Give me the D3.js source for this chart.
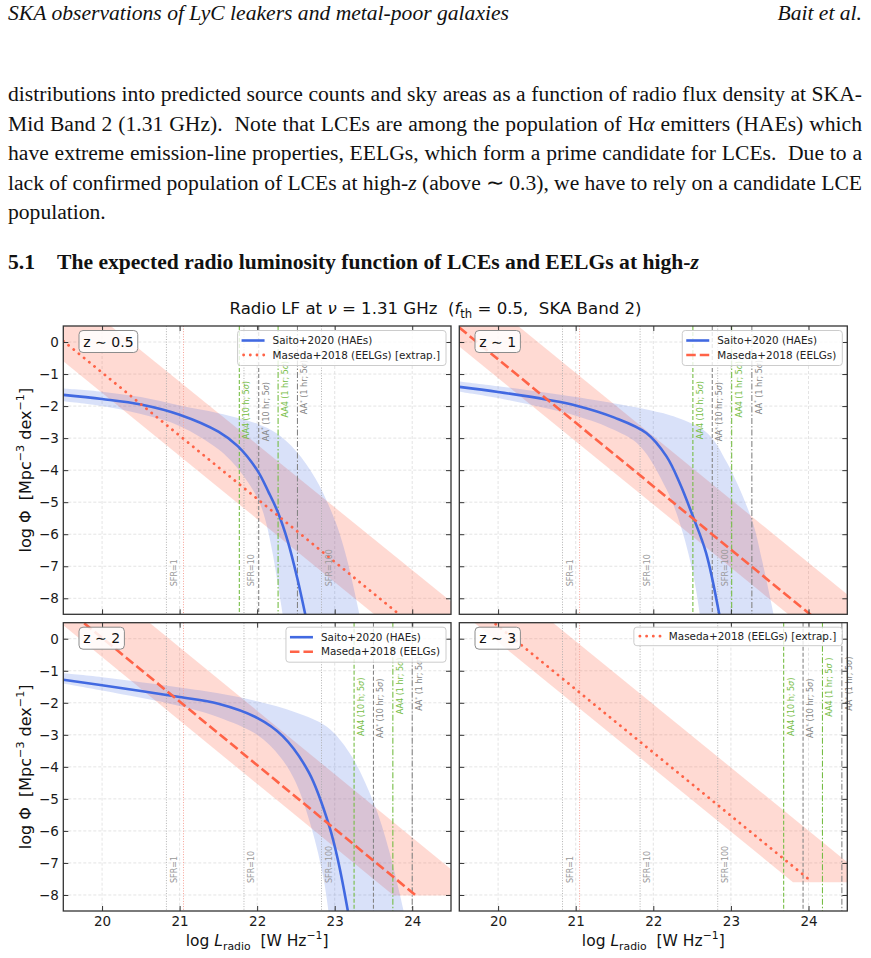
<!DOCTYPE html>
<html><head><meta charset="utf-8">
<script src="https://cdn.jsdelivr.net/npm/d3@7"></script>
<style>
body{margin:0;background:#fff;}
svg text{white-space:pre;}
</style></head><body>
<svg id="c" width="871" height="958"></svg>
<script>
// ---------------- DATA ----------------
const zLabels = ["z \u223C 0.5", "z \u223C 1", "z \u223C 2", "z \u223C 3"];
const xTicks = [20, 21, 22, 23, 24];
const yTicks = [0, -1, -2, -3, -4, -5, -6, -7, -8];
const xDomain = [19.5, 24.5];
const yDomain = [-8.5, 0.5];

const sfrLines = [20.83, 21.83, 22.83];
const sfrLabels = ["SFR=1", "SFR=10", "SFR=100"];
const redVLine = 21.05;

// sensitivity lines per panel (z~0.5, 1, 2, 3)
const aa4_10h = [21.77, 22.51, 23.25, 23.68];
const aaS_10h = [22.02, 22.76, 23.50, 23.93];
const aa4_1h  = [22.27, 23.01, 23.75, 24.18];
const aaS_1h  = [22.52, 23.27, 24.00, 24.43];

// Saito+2020 (HAEs) curves
const saitoX = [
  [19.5, 20.0, 20.5, 21.0, 21.5, 21.75, 22.0, 22.15, 22.27, 22.4, 22.52, 22.62],
  [19.5, 20.0, 20.63, 21.0, 21.5, 21.91, 22.17, 22.34, 22.51, 22.68, 22.85],
  [19.5, 20.0, 20.5, 21.0, 21.5, 22.0, 22.33, 22.67, 22.93, 23.05, 23.17],
  null
];
const saitoY = [
  [-1.65, -1.78, -1.95, -2.27, -2.80, -3.25, -4.00, -4.70, -5.33, -6.26, -7.40, -8.50],
  [-1.40, -1.56, -1.80, -1.98, -2.36, -2.84, -3.57, -4.40, -5.44, -6.58, -8.50],
  [-1.28, -1.45, -1.63, -1.82, -2.03, -2.47, -3.04, -4.19, -5.85, -7.00, -8.50],
  null
];
const saitoUpX = [
  [19.5, 20, 20.5, 21, 21.5, 22, 22.25, 22.5, 22.75, 23.0, 23.15, 23.32],
  [19.5, 20, 21, 21.5, 22, 22.26, 22.69, 22.95, 23.27, 23.4, 23.55],
  [19.5, 20, 21, 21.5, 22, 22.5, 22.9, 23.2, 23.5, 23.7, 23.89],
  null
];
const saitoUpY = [
  [-1.45, -1.55, -1.72, -1.98, -2.22, -2.55, -2.85, -3.40, -4.25, -5.55, -6.70, -8.50],
  [-1.23, -1.38, -1.72, -1.92, -2.15, -2.32, -2.83, -3.77, -5.55, -6.80, -8.50],
  [-1.08, -1.20, -1.52, -1.70, -1.95, -2.30, -2.75, -3.60, -5.10, -6.60, -8.50],
  null
];
const saitoLoX = [
  [19.5, 20, 20.5, 21, 21.5, 21.75, 22.0, 22.1, 22.2, 22.33],
  [19.5, 20, 21, 21.5, 21.83, 22.17, 22.34, 22.51, 22.6],
  [19.5, 20, 21, 21.5, 22, 22.3, 22.5, 22.7, 22.85, 22.92],
  null
];
const saitoLoY = [
  [-1.85, -2.00, -2.25, -2.62, -3.35, -3.95, -4.85, -5.50, -6.60, -8.50],
  [-1.55, -1.75, -2.30, -2.75, -3.25, -4.60, -5.64, -7.20, -8.50],
  [-1.40, -1.62, -2.10, -2.45, -3.00, -3.70, -4.50, -5.90, -7.40, -8.50],
  null
];

// Maseda+2018 (EELGs) lines and bands
const masedaX = [[19.5, 24.05], [19.5, 24.05], [19.5, 24.05], [19.5, 24.05]];
const masedaY = [[0.03, -8.93], [0.45, -8.56], [1.02, -8.02], [1.38, -7.60]];
const masedaStyle = ["dotted", "dashed", "dashed", "dotted"];
const masedaUpX = [[19.5, 24.5], [19.5, 24.5], [19.5, 24.5], [19.5, 24.5]];
const masedaUpY = [[1.70, -8.10], [2.00, -7.88], [2.70, -7.20], [2.88, -6.98]];
const masedaLoX = [[19.5, 24.5], [19.5, 24.5], [19.5, 23.76, 24.5], [19.5, 23.80, 24.5]];
const masedaLoY = [[-0.60, -10.45], [-0.14, -10.0], [0.42, -8.02, -8.02], [0.88, -7.60, -7.60]];

const legendSaito = "Saito+2020 (HAEs)";
const legendMaseda = ["Maseda+2018 (EELGs) [extrap.]", "Maseda+2018 (EELGs)", "Maseda+2018 (EELGs)", "Maseda+2018 (EELGs) [extrap.]"];

// ---------------- DRAW ----------------
const svg = d3.select("#c");
svg.append("rect").attr("width", 871).attr("height", 958).attr("fill", "#fff");

function rich(textSel, segs, fs) {
  let off = 0;
  segs.forEach(s => {
    const ts = textSel.append("tspan").text(s.t);
    if (s.it) ts.attr("font-style", "italic");
    if (s.bold) ts.attr("font-weight", "bold");
    let target = 0;
    if (s.sup) { target = -0.42 * fs; ts.attr("font-size", fs * 0.7); }
    if (s.sub) { target = 0.25 * fs; ts.attr("font-size", fs * 0.7); }
    if (target - off !== 0) ts.attr("dy", target - off);
    off = target;
  });
  return textSel;
}

// ---- page text ----
const serif = "'Liberation Serif','Times New Roman',serif";
const pfs = 21.6;
svg.append("text").attr("x", 8).attr("y", 20).attr("font-family", serif).attr("font-size", pfs)
  .attr("font-style", "italic").attr("fill", "#111").text("SKA observations of LyC leakers and metal-poor galaxies");
svg.append("text").attr("x", 862).attr("y", 20).attr("text-anchor", "end").attr("font-family", serif)
  .attr("font-size", pfs).attr("font-style", "italic").attr("fill", "#111").text("Bait et al.");

const paraLines = [
  [{t: "distributions into predicted source counts and sky areas as a function of radio flux density at SKA-"}],
  [{t: "Mid Band 2 (1.31 GHz).  Note that LCEs are among the population of H"}, {t: "\u03B1", it: true}, {t: " emitters (HAEs) which"}],
  [{t: "have extreme emission-line properties, EELGs, which form a prime candidate for LCEs.  Due to a"}],
  [{t: "lack of confirmed population of LCEs at high-"}, {t: "z", it: true}, {t: " (above \u223C 0.3), we have to rely on a candidate LCE"}],
  [{t: "population."}]
];
const paraBase = [101, 130.5, 160, 189.5, 219];
paraLines.forEach((segs, i) => {
  const t = svg.append("text").attr("x", 8).attr("y", paraBase[i]).attr("font-family", serif)
    .attr("font-size", pfs).attr("fill", "#111");
  rich(t, segs, pfs);
  if (i < 4) {
    const w = t.node().getComputedTextLength();
    const nsp = segs.map(s => s.t).join("").split(" ").length - 1;
    t.attr("word-spacing", (854 - w) / nsp);
  }
});
svg.append("text").attr("x", 8).attr("y", 269).attr("font-family", serif).attr("font-size", pfs)
  .attr("font-weight", "bold").attr("fill", "#111").text("5.1");
rich(svg.append("text").attr("x", 57).attr("y", 269).attr("font-family", serif).attr("font-size", pfs)
  .attr("font-weight", "bold").attr("fill", "#111"), [{t: "The expected radio luminosity function of LCEs and EELGs at high-"}, {t: "z", it: true}], pfs);

// ---- chart ----
const sans = "'DejaVu Sans', sans-serif";
const boxes = [
  {l: 63.3, t: 326, r: 451, b: 614.3},
  {l: 459.3, t: 326, r: 847.3, b: 614.3},
  {l: 63.3, t: 622.7, r: 451, b: 911},
  {l: 459.3, t: 622.7, r: 847.3, b: 911}
];
const blue = "#4169e1", tomato = "#ff6347", green = "#76bd45", grey = "#858585";

// title
rich(svg.append("text").attr("x", 435.5).attr("y", 314).attr("text-anchor", "middle")
  .attr("font-family", sans).attr("font-size", 16.6).attr("fill", "#111"),
  [{t: "Radio LF at "}, {t: "\u03BD", it: true}, {t: " = 1.31 GHz  ("}, {t: "f", it: true}, {t: "th", sub: true},
   {t: " = 0.5,  SKA Band 2)"}], 16.6);

const defs = svg.append("defs");
const smooth = d3.curveCatmullRom.alpha(0.5);

boxes.forEach((bx, i) => {
  const x = d3.scaleLinear().domain(xDomain).range([bx.l, bx.r]);
  const y = d3.scaleLinear().domain(yDomain).range([bx.b, bx.t]);
  const g = svg.append("g");
  defs.append("clipPath").attr("id", "clip" + i).append("rect")
    .attr("x", bx.l).attr("y", bx.t).attr("width", bx.r - bx.l).attr("height", bx.b - bx.t);

  // grid
  const grid = g.append("g").attr("stroke", "#d9d9d9").attr("stroke-width", 0.7).attr("stroke-dasharray", "3,2");
  xTicks.forEach(v => grid.append("line").attr("x1", x(v)).attr("x2", x(v)).attr("y1", bx.t).attr("y2", bx.b));
  yTicks.forEach(v => grid.append("line").attr("y1", y(v)).attr("y2", y(v)).attr("x1", bx.l).attr("x2", bx.r));

  const cg = g.append("g").attr("clip-path", "url(#clip" + i + ")");
  const lineGen = d3.line().x(d => x(d[0])).y(d => y(d[1]));
  const smoothGen = d3.line().x(d => x(d[0])).y(d => y(d[1])).curve(smooth);
  const zip = (a, b) => a.map((v, k) => [v, b[k]]);

  // Maseda band
  const mu = zip(masedaUpX[i], masedaUpY[i]);
  const ml = zip(masedaLoX[i], masedaLoY[i]).reverse();
  cg.append("path").attr("d", lineGen(mu.concat(ml)) + "Z").attr("fill", tomato).attr("fill-opacity", 0.24);

  // Saito band
  if (saitoX[i]) {
    const su = zip(saitoUpX[i], saitoUpY[i]);
    const sl = zip(saitoLoX[i], saitoLoY[i]).reverse();
    cg.append("path").attr("d", smoothGen(su) + "L" + smoothGen(sl).slice(1) + "Z")
      .attr("fill", blue).attr("fill-opacity", 0.2);
  }

  // vertical reference lines
  sfrLines.forEach(v => cg.append("line").attr("x1", x(v)).attr("x2", x(v)).attr("y1", bx.t).attr("y2", bx.b)
    .attr("stroke", "#aaa").attr("stroke-width", 0.9).attr("stroke-dasharray", "1,1.6"));
  cg.append("line").attr("x1", x(redVLine)).attr("x2", x(redVLine)).attr("y1", bx.t).attr("y2", bx.b)
    .attr("stroke", "#f6a197").attr("stroke-width", 1).attr("stroke-dasharray", "1,1.6");
  const vl = [
    {v: aa4_10h[i], c: green, d: "4,2"},
    {v: aaS_10h[i], c: grey, d: "4,2"},
    {v: aa4_1h[i], c: green, d: "6,2,1.5,2"},
    {v: aaS_1h[i], c: grey, d: "6,2,1.5,2"}
  ];
  vl.forEach(o => cg.append("line").attr("x1", x(o.v)).attr("x2", x(o.v)).attr("y1", bx.t).attr("y2", bx.b)
    .attr("stroke", o.c).attr("stroke-width", 1.1).attr("stroke-dasharray", o.d));

  // Saito line
  if (saitoX[i]) {
    cg.append("path").attr("d", smoothGen(zip(saitoX[i], saitoY[i]))).attr("fill", "none")
      .attr("stroke", blue).attr("stroke-width", 2.6);
  }
  // Maseda line
  const mp = cg.append("path").attr("d", lineGen(zip(masedaX[i], masedaY[i]))).attr("fill", "none")
    .attr("stroke", tomato);
  if (masedaStyle[i] === "dotted") mp.attr("stroke-width", 2.8).attr("stroke-linecap", "round").attr("stroke-dasharray", "0.1,6.6");
  else mp.attr("stroke-width", 2.6).attr("stroke-dasharray", "9.5,4");

  // SFR labels
  sfrLines.forEach((v, k) => g.append("text").attr("transform", `translate(${x(v) + 10.3},${bx.b - 28}) rotate(-90)`)
    .attr("font-family", sans).attr("font-size", 8).attr("fill", "#999").text(sfrLabels[k]));

  // AA labels
  const lab = [
    {v: aa4_10h[i], c: green, segs: [{t: "AA4 (10 h; 5"}, {t: "\u03C3", it: true}, {t: ")"}], top: 55},
    {v: aaS_10h[i], c: grey, segs: [{t: "AA"}, {t: "*", sup: true}, {t: " (10 hr; 5"}, {t: "\u03C3", it: true}, {t: ")"}], top: 56},
    {v: aa4_1h[i], c: green, segs: [{t: "AA4 (1 hr; 5"}, {t: "\u03C3", it: true}, {t: i === 3 ? " )" : ")"}], top: 35},
    {v: aaS_1h[i], c: grey, segs: [{t: "AA"}, {t: "*", sup: true}, {t: " (1 hr; 5"}, {t: "\u03C3", it: true}, {t: ")"}], top: 34}
  ];
  lab.forEach(o => {
    const t = g.append("text").attr("transform", `translate(${x(o.v) + 10},${bx.t + o.top}) rotate(-90)`)
      .attr("text-anchor", "end").attr("font-family", sans).attr("font-size", 8).attr("fill", o.c);
    rich(t, o.segs, 8);
  });

  // axes ticks (inward, all sides)
  const showY = (i % 2 === 0), showX = (i >= 2);
  const axL = d3.axisLeft(y).tickValues(yTicks).tickSizeInner(-5).tickSizeOuter(0).tickPadding(4.5);
  if (!showY) axL.tickFormat("");
  const axR = d3.axisRight(y).tickValues(yTicks).tickSizeInner(-5).tickSizeOuter(0).tickFormat("");
  const axB = d3.axisBottom(x).tickValues(xTicks).tickSizeInner(-5).tickSizeOuter(0).tickPadding(5.5).tickFormat(d3.format("d"));
  if (!showX) axB.tickFormat("");
  const axT = d3.axisTop(x).tickValues(xTicks).tickSizeInner(-5).tickSizeOuter(0).tickFormat("");
  const gl = g.append("g").attr("transform", `translate(${bx.l},0)`).call(axL);
  const gr = g.append("g").attr("transform", `translate(${bx.r},0)`).call(axR);
  const gb = g.append("g").attr("transform", `translate(0,${bx.b})`).call(axB);
  const gt = g.append("g").attr("transform", `translate(0,${bx.t})`).call(axT);
  [gl, gr, gb, gt].forEach(a => {
    a.select(".domain").remove();
    a.selectAll(".tick line").attr("stroke", "#333").attr("stroke-width", 1);
    a.selectAll("text").attr("font-family", sans).attr("font-size", 13.5).attr("fill", "#1a1a1a");
  });

  // frame
  g.append("rect").attr("x", bx.l).attr("y", bx.t).attr("width", bx.r - bx.l).attr("height", bx.b - bx.t)
    .attr("fill", "none").attr("stroke", "#333").attr("stroke-width", 1.3);

  // z label box
  const zr = g.append("rect");
  const zt = g.append("text").attr("x", bx.l + 20).attr("y", bx.t + 20.5).attr("font-family", sans)
    .attr("font-size", 14).attr("fill", "#111").text(zLabels[i]);
  const zw = zt.node().getComputedTextLength();
  zr.attr("x", bx.l + 15.7).attr("y", bx.t + 4.5).attr("width", zw + 8.5)
    .attr("height", 22).attr("rx", 4).attr("fill", "#fff").attr("fill-opacity", 0.85)
    .attr("stroke", "#8c8c8c").attr("stroke-width", 1);

  // legend
  const entries = [];
  if (saitoX[i]) entries.push({label: legendSaito, type: "solid"});
  entries.push({label: legendMaseda[i], type: masedaStyle[i]});
  const lg = g.append("g");
  const lbox = lg.append("rect");
  let maxW = 0;
  const texts = entries.map((e, k) => {
    const t = lg.append("text").attr("font-family", sans).attr("font-size", 10.4).attr("fill", "#222").text(e.label);
    maxW = Math.max(maxW, t.node().getComputedTextLength());
    return t;
  });
  const lw = 4 + 23 + 8 + maxW + 6;
  const lh = entries.length === 2 ? 35 : 18.5;
  const lx = bx.r - 5 - lw, ly = bx.t + 4.5;
  lbox.attr("x", lx).attr("y", ly).attr("width", lw).attr("height", lh).attr("rx", 3)
    .attr("fill", "#fff").attr("fill-opacity", 0.8).attr("stroke", "#cccccc").attr("stroke-width", 1);
  entries.forEach((e, k) => {
    const cy = ly + (entries.length === 2 ? 10 + k * 14.5 : 9);
    const s = lg.append("line").attr("x1", lx + 4).attr("x2", lx + 27).attr("y1", cy).attr("y2", cy);
    if (e.type === "solid") s.attr("stroke", blue).attr("stroke-width", 2.6);
    else if (e.type === "dashed") s.attr("stroke", tomato).attr("stroke-width", 2.6).attr("stroke-dasharray", "9.5,4");
    else s.attr("stroke", tomato).attr("stroke-width", 2.8).attr("stroke-linecap", "round").attr("stroke-dasharray", "0.1,6.6").attr("x1", lx + 6);
    texts[k].attr("x", lx + 35).attr("y", cy + 3.7);
  });

  // axis labels
  if (showY) {
    rich(svg.append("text").attr("transform", `translate(31,${(bx.t + bx.b) / 2}) rotate(-90)`)
      .attr("text-anchor", "middle").attr("font-family", sans).attr("font-size", 16).attr("fill", "#111"),
      [{t: "log \u03A6  [Mpc"}, {t: "\u22123", sup: true}, {t: " dex"}, {t: "\u22121", sup: true}, {t: "]"}], 16);
  }
  if (showX) {
    rich(svg.append("text").attr("x", (bx.l + bx.r) / 2).attr("y", 946).attr("text-anchor", "middle")
      .attr("font-family", sans).attr("font-size", 15.5).attr("fill", "#111"),
      [{t: "log "}, {t: "L", it: true}, {t: "radio", sub: true}, {t: "  [W Hz"}, {t: "\u22121", sup: true}, {t: "]"}], 15.5);
  }
});
</script></body></html>
